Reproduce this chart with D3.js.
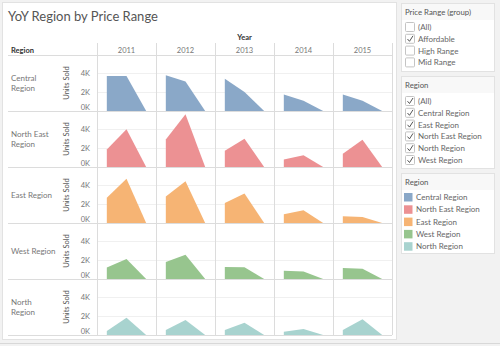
<!DOCTYPE html>
<html>
<head>
<meta charset="utf-8">
<script src="https://cdn.jsdelivr.net/npm/d3@7"></script>
<style>
  body { margin: 0; background: #f2f2f2; }
  svg { display: block; font-family: Lato, "Open Sans", sans-serif; }
</style>
</head>
<body>
<div id="chart"></div>
<script>
// data - each cell is 3 points, the last one drops to 0
var years = ["2011", "2012", "2013", "2014", "2015"];
var regions = ["Central Region", "North East Region", "East Region", "West Region", "North Region"];
var steps = ["a", "b", "c"];

var central   = [[3700, 3700, 0], [3760, 3100, 0], [3400, 2000, 0], [1750, 1080, 0], [1750, 1080, 0]];
var northEast = [[1850, 3980, 0], [2900, 5550, 0], [1700, 2980, 0], [780, 1230, 0], [1400, 2880, 0]];
var east      = [[2670, 4670, 0], [2800, 4390, 0], [2100, 3100, 0], [920, 1340, 0], [700, 630, 0]];
var west      = [[1220, 2100, 0], [1790, 2560, 0], [1260, 1230, 0], [870, 800, 0], [1160, 1080, 0]];
var north     = [[420, 1820, 0], [530, 1580, 0], [530, 1280, 0], [350, 630, 0], [530, 1650, 0]];

var yTicks = [0, 2000, 4000];
var colors = ["#8aa8c8", "#ec9193", "#f6b474", "#97c58e", "#a8d3cf"];

var priceRanges = ["(All)", "Affordable", "High Range", "Mid Range"];
var priceChecked = [false, true, false, false];
var regionFilter = ["(All)", "Central Region", "East Region", "North East Region", "North Region", "West Region"];

var series = [central, northEast, east, west, north];

var W = 500, H = 346;
var svg = d3.select("#chart").append("svg")
  .attr("width", W)
  .attr("height", H);

svg.append("rect").attr("width", W).attr("height", H).attr("fill", "#f2f2f2");
svg.append("line").attr("x1", 0).attr("x2", W).attr("y1", 343.5).attr("y2", 343.5).attr("stroke", "#d8d8d8");

// main white panel
svg.append("rect")
  .attr("x", 2.5).attr("y", 2.5).attr("width", 394).attr("height", 337)
  .attr("fill", "#fff").attr("stroke", "#e2e2e2");

svg.append("text")
  .attr("x", 8).attr("y", 21)
  .attr("font-size", 13)
  .attr("fill", "#555")
  .text("YoY Region by Price Range");

// grid geometry
var gLeft = 97, gRight = 392;
var gTop = 55, rowH = 56;

var xCol = d3.scaleBand().domain(years).range([gLeft, gRight]);
var xIn = d3.scalePoint().domain(steps).range([0, xCol.bandwidth()]).padding(0.5);
var yRow = d3.scaleBand().domain(regions).range([gTop, gTop + rowH * regions.length]);
var y = d3.scaleLinear().domain([0, 5900]).range([rowH, 0]);

svg.append("text")
  .attr("x", (gLeft + gRight) / 2).attr("y", 40)
  .attr("text-anchor", "middle")
  .attr("font-size", 7.5).attr("font-weight", "bold").attr("fill", "#333")
  .text("Year");

svg.append("text")
  .attr("x", 11).attr("y", 52.5)
  .attr("font-size", 7.5).attr("font-weight", "bold").attr("fill", "#333")
  .text("Region");

svg.selectAll(".yr")
  .data(years)
  .enter().append("text")
  .attr("x", d => xCol(d) + xCol.bandwidth() / 2)
  .attr("y", 52.5)
  .attr("text-anchor", "middle")
  .attr("font-size", 7.5).attr("fill", "#777")
  .text(d => d);

// rows
regions.forEach(function(reg, i) {
  var g = svg.append("g").attr("transform", "translate(0," + yRow(reg) + ")");

  // light gridlines
  g.selectAll(".grid")
    .data(yTicks.slice(1))
    .enter().append("line")
    .attr("x1", gLeft).attr("x2", gRight)
    .attr("y1", d => y(d) + 0.5).attr("y2", d => y(d) + 0.5)
    .attr("stroke", "#f0f0f0");

  // row label, split on the word Region when long
  var words = reg.length > 12 || reg == "North Region" ? [reg.replace(" Region", ""), "Region"] : [reg];
  g.append("text")
    .attr("x", 11)
    .attr("y", rowH / 2 - (words.length - 1) * 5 + 3)
    .attr("font-size", 8).attr("fill", "#777")
    .selectAll("tspan").data(words).enter().append("tspan")
    .attr("x", 11).attr("dy", (d, k) => k ? 10 : 0)
    .text(d => d);

  g.append("text")
    .attr("transform", "translate(69," + (rowH / 2) + ") rotate(-90)")
    .attr("text-anchor", "middle")
    .attr("font-size", 7.5).attr("fill", "#555")
    .text("Units Sold");

  // axis
  var ax = g.append("g")
    .attr("transform", "translate(" + (gLeft - 4) + ",0)")
    .call(d3.axisLeft(y).tickValues(yTicks).tickSize(0).tickFormat(d => (d / 1000) + "K"));
  ax.select(".domain").remove();
  ax.selectAll("text")
    .attr("font-size", 7.5).attr("fill", "#777").attr("font-family", "Lato, sans-serif")
    .attr("dy", d => d == 0 ? "-0.25em" : "0.32em");

  var area = d3.area()
    .x((d, k) => xIn(steps[k]))
    .y0(y(0))
    .y1(d => y(d));

  years.forEach(function(yr, j) {
    g.append("path")
      .datum(series[i][j])
      .attr("transform", "translate(" + xCol(yr) + ",0)")
      .attr("d", area)
      .attr("fill", colors[i]);
  });
});

// separators
var lines = svg.append("g").attr("stroke", "#dcdcdc");
lines.selectAll(".h")
  .data(d3.range(regions.length + 1))
  .enter().append("line")
  .attr("x1", 8).attr("x2", gRight)
  .attr("y1", d => gTop + d * rowH + 0.5).attr("y2", d => gTop + d * rowH + 0.5);
lines.selectAll(".v")
  .data(years.concat(["end"]))
  .enter().append("line")
  .attr("x1", d => (d == "end" ? gRight : xCol(d)) + 0.5)
  .attr("x2", d => (d == "end" ? gRight : xCol(d)) + 0.5)
  .attr("y1", 43).attr("y2", gTop + rowH * regions.length);

// right side filter cards
function card(x0, y0, h, title) {
  var c = svg.append("g").attr("transform", "translate(" + x0 + "," + y0 + ")");
  c.append("rect").attr("x", 0.5).attr("y", 0.5).attr("width", 93).attr("height", h)
    .attr("fill", "#fff").attr("stroke", "#e2e2e2");
  c.append("rect").attr("x", 1).attr("y", 1).attr("width", 92).attr("height", 16).attr("fill", "#f8f8f8");
  c.append("text").attr("x", 4).attr("y", 11.5)
    .attr("font-size", 7.8).attr("fill", "#555").text(title);
  return c;
}

function checklist(c, items, checked, y0) {
  var it = c.selectAll(".item").data(items).enter().append("g")
    .attr("transform", (d, k) => "translate(4," + (y0 + k * 11.8) + ")");
  it.append("rect").attr("x", 0.5).attr("y", -4.5).attr("width", 9).attr("height", 9).attr("rx", 1)
    .attr("fill", "#fff").attr("stroke", "#c4c4c4");
  it.filter((d, k) => checked[k]).append("path")
    .attr("d", "M2.5,0.2 L4.5,2.5 L8,-3")
    .attr("fill", "none").attr("stroke", "#555").attr("stroke-width", 1);
  it.append("text").attr("x", 13).attr("y", 3)
    .attr("font-size", 8).attr("fill", "#666").text(d => d);
}

var c1 = card(401, 3, 68, "Price Range (group)");
checklist(c1, priceRanges, priceChecked, 24);

var c2 = card(401, 76, 92, "Region");
checklist(c2, regionFilter, regionFilter.map(() => true), 25);

var c3 = card(401, 173, 80, "Region");
var lg = c3.selectAll(".lg").data(regions).enter().append("g")
  .attr("transform", (d, k) => "translate(3," + (24 + k * 12.3) + ")");
lg.append("rect").attr("x", 0).attr("y", -4).attr("width", 8.5).attr("height", 8.5)
  .attr("fill", (d, k) => colors[k]);
lg.append("text").attr("x", 12).attr("y", 3)
  .attr("font-size", 8).attr("fill", "#666").text(d => d);
</script>
</body>
</html>
